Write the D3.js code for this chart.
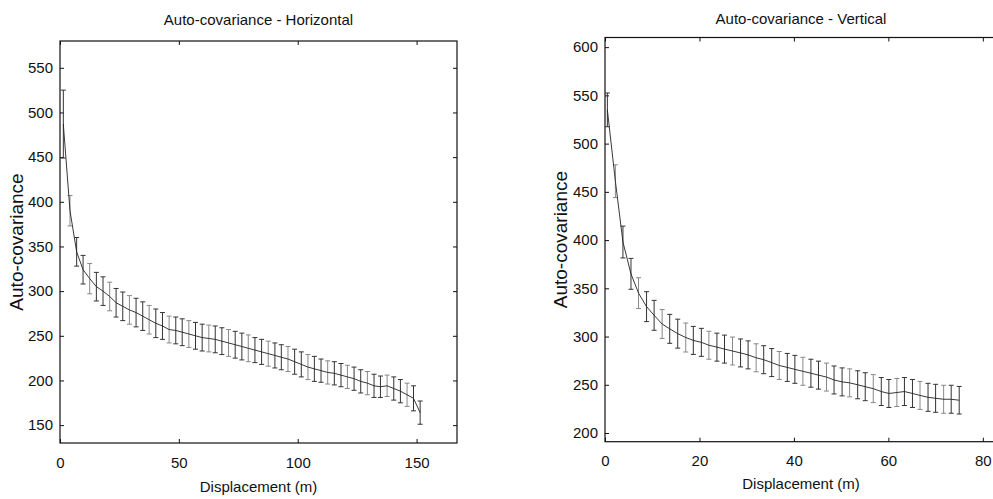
<html>
<head>
    <script src="https://d3js.org/d3.v7.min.js"></script>
    <style>
        body { margin: 0; background: white; }
        text { font-family: "Liberation Sans", Arial, sans-serif; fill: #111; }
        .tick text { font-size: 15px; }
        .tick line { stroke: #111; }
    </style>
</head>
<body>
	<script>
        // horizontal profile
        var hDisp = [1.4, 4.2, 7.0, 9.7, 12.5, 15.3, 18.1, 20.9, 23.6, 26.4, 29.2, 32.0, 34.8, 37.5, 40.3,
                     43.1, 45.9, 48.7, 51.4, 54.2, 57.0, 59.8, 62.6, 65.3, 68.1, 70.9, 73.7, 76.5, 79.2,
                     82.0, 84.8, 87.6, 90.4, 93.1, 95.9, 98.7, 101.5, 104.3, 107.0, 109.8, 112.6, 115.4,
                     118.2, 120.9, 123.7, 126.5, 129.3, 132.1, 134.8, 137.6, 140.4, 143.2, 146.0, 148.7, 151.5];
        var hMean = [487, 390, 344, 324, 314, 305, 300, 294, 287, 283, 279, 276, 272, 268, 264,
                     261, 257, 256, 254, 252, 250, 248, 247, 246, 244, 242, 240, 238, 236,
                     234, 232, 230, 228, 226, 224, 221, 218, 215, 213, 211, 209, 208,
                     206, 204, 202, 199, 197, 194, 193, 194, 191, 188, 184, 180, 164];
        var hErr  = [38, 17, 16, 16, 17, 16, 16, 16, 16, 16, 16, 16, 16, 16, 16,
                     15, 15, 15, 15, 15, 15, 15, 15, 15, 15, 15, 15, 15, 15,
                     14, 14, 14, 14, 14, 14, 14, 14, 14, 14, 13, 13, 13,
                     13, 13, 13, 13, 13, 13, 12, 12, 13, 13, 13, 14, 13];
        var hXTicks = [0, 50, 100, 150];
        var hYTicks = [150, 200, 250, 300, 350, 400, 450, 500, 550];

        // vertical profile
        var vDisp = [0.5, 2.2, 3.8, 5.5, 7.1, 8.8, 10.4, 12.1, 13.7, 15.4, 17.1, 18.7, 20.4, 22.0, 23.7,
                     25.3, 27.0, 28.7, 30.3, 32.0, 33.6, 35.3, 36.9, 38.6, 40.2, 41.9, 43.6, 45.2, 46.9,
                     48.5, 50.2, 51.8, 53.5, 55.1, 56.8, 58.5, 60.1, 61.8, 63.4, 65.1, 66.7, 68.4, 70.0,
                     71.7, 73.3, 75.0];
        var vMean = [535, 461, 398, 365, 345, 331, 322, 313, 308, 303, 299, 296, 294, 291, 289,
                     287, 285, 283, 281, 278, 276, 273, 270, 268, 266, 264, 262, 260, 258,
                     255, 253, 252, 250, 248, 246, 243, 241, 242, 243, 241, 239, 237, 236,
                     235, 235, 234];
        var vErr  = [17.5, 17, 16.5, 16, 16, 15.5, 15.5, 15, 15, 15, 15, 14.5, 14.5, 14.5, 14.5,
                     14.5, 14.5, 14.5, 14.5, 14.5, 14.5, 14.5, 14.5, 14.5, 14.5, 14.5, 14.5, 14.5, 14.5,
                     14.5, 14.5, 14.5, 14.5, 14.5, 14.5, 14.5, 14.5, 14.5, 14.5, 14.5, 14.5, 14.5, 14.5,
                     14.5, 14.5, 14.3];
        var vXTicks = [0, 20, 40, 60, 80];
        var vYTicks = [200, 250, 300, 350, 400, 450, 500, 550, 600];

		var width = 993, height = 499;
		var svg = d3.select("body").append("svg").attr("width", width).attr("height", height);

        function panel(opt) {
            var x = d3.scaleLinear().domain(opt.xDomain).range([opt.left, opt.right]);
            var y = d3.scaleLinear().domain(opt.yDomain).range([opt.bottom, opt.top]);
            var g = svg.append("g");
            var cx = (opt.left + opt.right) / 2;

            g.append("g").attr("transform", "translate(0," + opt.bottom + ")")
                .call(d3.axisBottom(x).tickValues(opt.xTicks).tickSizeInner(-4).tickSizeOuter(0).tickPadding(14));
            g.append("g").attr("transform", "translate(0," + opt.top + ")")
                .call(d3.axisTop(x).tickValues(opt.xTicks).tickSizeInner(-4).tickSizeOuter(0).tickFormat(""));
            g.append("g").attr("transform", "translate(" + opt.left + ",0)")
                .call(d3.axisLeft(y).tickValues(opt.yTicks).tickSizeInner(-4).tickSizeOuter(0).tickPadding(7));
            g.append("g").attr("transform", "translate(" + opt.right + ",0)")
                .call(d3.axisRight(y).tickValues(opt.yTicks).tickSizeInner(-4).tickSizeOuter(0).tickFormat(""));
            g.selectAll(".domain").remove();

            g.append("rect").attr("x", opt.left).attr("y", opt.top)
                .attr("width", opt.right - opt.left).attr("height", opt.bottom - opt.top)
                .attr("fill", "none").attr("stroke", "#111").attr("stroke-width", 1.2);

            var pts = opt.disp.map(function(d, i) { return {d: d, m: opt.mean[i], e: opt.err[i]}; });

            var bars = g.append("g").selectAll("g").data(pts).enter().append("g")
                .attr("stroke", function(d, i) { return i % 3 == 1 ? "#888" : "#333"; })
                .attr("stroke-width", 1);
            bars.append("line")
                .attr("x1", function(d) { return x(d.d); }).attr("x2", function(d) { return x(d.d); })
                .attr("y1", function(d) { return y(d.m + d.e); }).attr("y2", function(d) { return y(d.m - d.e); });
            bars.append("line")
                .attr("x1", function(d) { return x(d.d) - 2.5; }).attr("x2", function(d) { return x(d.d) + 2.5; })
                .attr("y1", function(d) { return y(d.m + d.e); }).attr("y2", function(d) { return y(d.m + d.e); });
            bars.append("line")
                .attr("x1", function(d) { return x(d.d) - 2.5; }).attr("x2", function(d) { return x(d.d) + 2.5; })
                .attr("y1", function(d) { return y(d.m - d.e); }).attr("y2", function(d) { return y(d.m - d.e); });

            var line = d3.line().x(function(d) { return x(d.d); }).y(function(d) { return y(d.m); });
            g.append("path").datum(pts).attr("d", line)
                .attr("fill", "none").attr("stroke", "#222").attr("stroke-width", 0.9);

            g.append("text").attr("x", cx).attr("y", opt.titleY).attr("text-anchor", "middle")
                .style("font-size", "15px").text(opt.title);
            g.append("text").attr("x", cx).attr("y", opt.xLabelY).attr("text-anchor", "middle")
                .style("font-size", "15px").text("Displacement (m)");
            g.append("text").attr("text-anchor", "middle").style("font-size", "19px")
                .attr("transform", "translate(" + opt.yLabelX + "," + (opt.top + opt.bottom) / 2 + ") rotate(-90)")
                .text("Auto-covariance");
        }

        panel({title: "Auto-covariance - Horizontal", left: 60, right: 457, top: 41, bottom: 443,
               xDomain: [0, 167], yDomain: [130, 580], xTicks: hXTicks, yTicks: hYTicks,
               disp: hDisp, mean: hMean, err: hErr, titleY: 25, xLabelY: 492, yLabelX: 23});
        panel({title: "Auto-covariance - Vertical", left: 605, right: 997, top: 37.5, bottom: 441.7,
               xDomain: [0, 83], yDomain: [191, 610], xTicks: vXTicks, yTicks: vYTicks,
               disp: vDisp, mean: vMean, err: vErr, titleY: 24, xLabelY: 489, yLabelX: 567});
	</script>
</body>
</html>
